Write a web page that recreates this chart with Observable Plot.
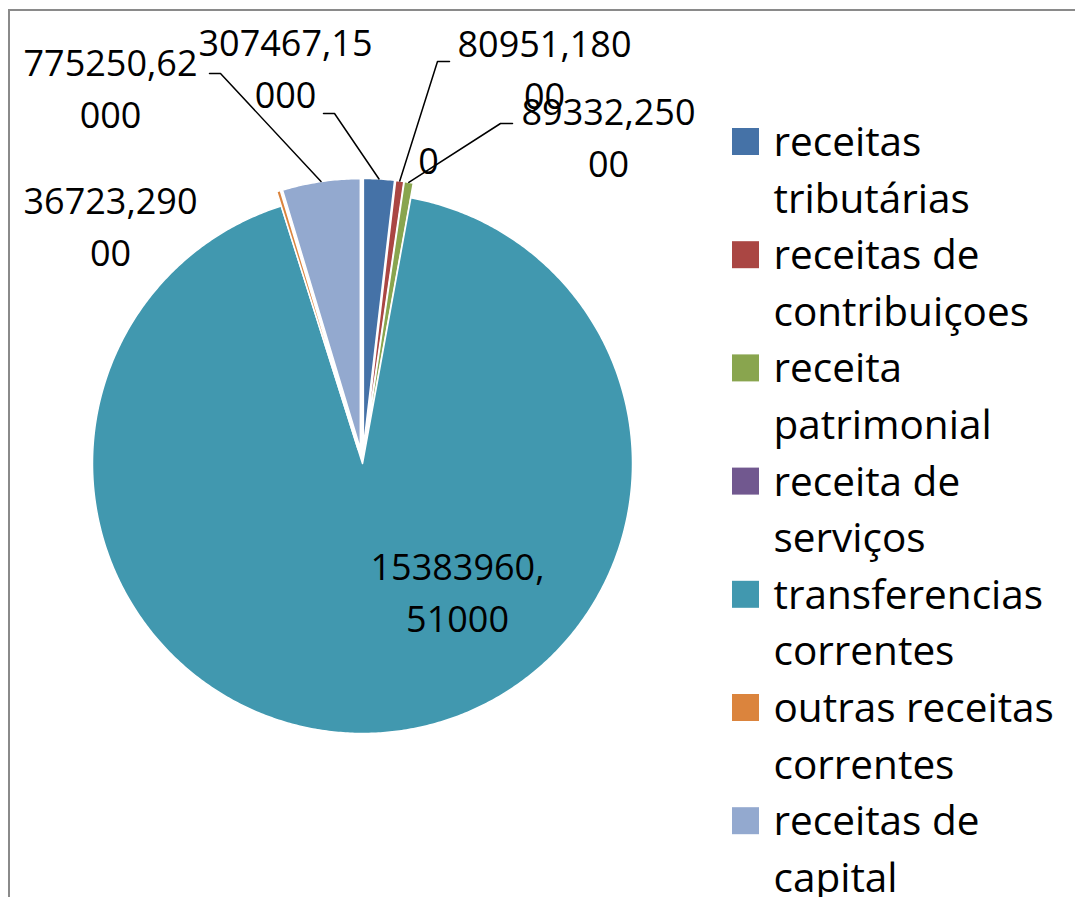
<!DOCTYPE html>
<html>
<head>
<meta charset="utf-8">
<script src="https://cdn.jsdelivr.net/npm/d3@7"></script>
<script src="https://cdn.jsdelivr.net/npm/@observablehq/plot@0.6"></script>
<style>
  body { margin: 0; background: #fff; }
  #wrap { position: relative; width: 1075px; height: 897px; overflow: hidden; background: #fff; }
  #frame { position: absolute; left: 8px; top: 9px; width: 2000px; height: 2000px;
           border-left: 2px solid #8a8a8a; border-top: 2px solid #8a8a8a; pointer-events: none; }
</style>
</head>
<body>
<div id="wrap"><div id="frame"></div></div>
<script>
// ---- data ----
const categories = [
  "receitas tributárias",
  "receitas de contribuiçoes",
  "receita patrimonial",
  "receita de serviços",
  "transferencias correntes",
  "outras receitas correntes",
  "receitas de capital"
];
const values = [307467.15, 80951.18, 89332.25, 0, 15383960.51, 36723.29, 775250.62];
const legendLines = [
  ["receitas", "tributárias"],
  ["receitas de", "contribuiçoes"],
  ["receita", "patrimonial"],
  ["receita de", "serviços"],
  ["transferencias", "correntes"],
  ["outras receitas", "correntes"],
  ["receitas de", "capital"]
];
const colors = ["#4572A7", "#AA4643", "#89A54E", "#71588F", "#4198AF", "#DB843D", "#93A9CF"];

// ---- layout ----
const W = 1075, H = 897;
const pie = {cx: 362, cy: 463, r: 270, explode: 15};
const exploded = [true, true, true, true, false, true, true];
const labelLayout = [
  {x: 285, y: 107, stub: [[323, 113], [334, 113]]},
  {x: 544, y: 108, stub: [[449, 61], [437, 61]]},
  {x: 608, y: 176, stub: [[512, 123], [500, 123]]},
  {x: 428, y: 173, stub: null},
  {x: 457, y: 631, stub: null},
  {x: 110, y: 265, stub: null},
  {x: 110, y: 127, stub: [[209, 73], [220, 73]]}
];
const legend = {x: 732, size: 27, textX: 773, top: 128, step: 113.2, baseline2: 212};

// ---- geometry from data ----
const total = d3.sum(values);
let acc = 0;
const slices = categories.map((name, i) => {
  const a0 = acc / total * 2 * Math.PI;
  acc += values[i];
  const a1 = acc / total * 2 * Math.PI;
  const mid = (a0 + a1) / 2;
  const off = exploded[i] ? pie.explode : 0;
  const ox = pie.cx + off * Math.sin(mid);
  const oy = pie.cy - off * Math.cos(mid);
  return {name, value: values[i], a0, a1, mid, ox, oy};
});
const pt = (s, a, rr) => ({x: s.ox + rr * Math.sin(a), y: s.oy - rr * Math.cos(a)});

const slicePts = [];
for (const s of slices) {
  if (s.value <= 0) continue;
  const deg = (s.a1 - s.a0) * 180 / Math.PI;
  const n = Math.max(2, Math.ceil(deg / 0.5));
  slicePts.push({name: s.name, x: s.ox, y: s.oy});
  for (let k = 0; k <= n; ++k) {
    const a = s.a0 + (s.a1 - s.a0) * k / n;
    slicePts.push({name: s.name, ...pt(s, a, pie.r)});
  }
}

const leaderPts = [];
slices.forEach((s, i) => {
  const L = labelLayout[i];
  if (!L.stub) return;
  leaderPts.push({name: s.name, x: L.stub[0][0], y: L.stub[0][1]});
  leaderPts.push({name: s.name, x: L.stub[1][0], y: L.stub[1][1]});
  leaderPts.push({name: s.name, ...pt(s, s.mid, pie.r)});
});

const fmt = v => {
  if (v === 0) return "0";
  const s = v.toFixed(5).replace(".", ",");
  return s.length > 9 ? s.slice(0, 9) + "\n" + s.slice(9) : s;
};
const labelData = slices.map((s, i) => ({name: s.name, text: fmt(s.value), x: labelLayout[i].x, y: labelLayout[i].y}));

const legendData = categories.map((name, i) => ({
  name,
  x1: legend.x, x2: legend.x + legend.size,
  y1: legend.top + i * legend.step, y2: legend.top + i * legend.step + legend.size,
  tx: legend.textX, ty: legend.baseline2 + i * legend.step,
  text: legendLines[i].join("\n")
}));

const chart = Plot.plot({
  width: W, height: H, margin: 0,
  style: {background: "transparent"},
  x: {domain: [0, W], range: [0, W], axis: null},
  y: {domain: [0, H], range: [0, H], axis: null},
  color: {type: "ordinal", domain: categories, range: colors},
  marks: [
    Plot.line(slicePts, {x: "x", y: "y", z: "name", fill: "name", stroke: "white", strokeWidth: 1.5, curve: "linear-closed", strokeLinejoin: "round"}),
    Plot.line(leaderPts, {x: "x", y: "y", z: "name", stroke: "black", strokeWidth: 1.5}),
    Plot.text(labelData, {x: "x", y: "y", text: "text", fontSize: 36, fontFamily: "Open Sans", lineAnchor: "bottom", lineHeight: 1.444, textAnchor: "middle", fill: "black"}),
    Plot.rect(legendData, {x1: "x1", x2: "x2", y1: "y1", y2: "y2", fill: "name"}),
    Plot.text(legendData, {x: "tx", y: "ty", text: "text", fontSize: 40.5, fontFamily: "Open Sans", lineAnchor: "bottom", lineHeight: 1.395, textAnchor: "start", fill: "black"})
  ]
});
document.getElementById("wrap").insertBefore(chart, document.getElementById("frame"));
</script>
</body>
</html>
